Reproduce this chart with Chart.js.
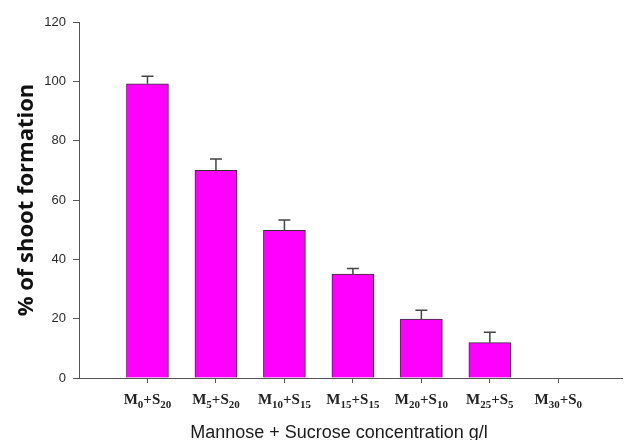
<!DOCTYPE html>
<html>
<head>
<meta charset="utf-8">
<script src="https://cdn.jsdelivr.net/npm/chart.js@4"></script>
<style>
html,body{margin:0;padding:0;background:#fff;}
#wrap{width:624px;height:440px;}
</style>
</head>
<body>
<div id="wrap"><canvas id="c" width="624" height="440"></canvas></div>
<script>
// ---- data ----
const mannose = [0, 5, 10, 15, 20, 25, 30];
const sucrose = [20, 20, 15, 15, 10, 5, 0];
const shootPercent = [99.2, 70.0, 49.8, 35.0, 19.9, 11.9, 0];
const errorSE = [2.5, 3.8, 3.5, 1.9, 2.9, 3.5, 0];
const yTicks = [0, 20, 40, 60, 80, 100, 120];
const xTitle = 'Mannose + Sucrose concentration g/l';
const yTitle = '% of shoot formation';

const points = shootPercent.map((v, i) => ({x: i + 1, y: v}));

const errorBars = {
  id: 'errorBars',
  afterDatasetsDraw(chart) {
    const ctx = chart.ctx;
    const ys = chart.scales.y;
    const meta = chart.getDatasetMeta(0);
    ctx.save();
    ctx.strokeStyle = '#444';
    ctx.lineWidth = 1.5;
    meta.data.forEach((el, i) => {
      if (!errorSE[i]) return;
      const top = ys.getPixelForValue(shootPercent[i] + errorSE[i]);
      ctx.beginPath();
      ctx.moveTo(el.x, el.y);
      ctx.lineTo(el.x, top);
      ctx.moveTo(el.x - 6, top);
      ctx.lineTo(el.x + 6, top);
      ctx.stroke();
    });
    ctx.restore();
  }
};

const subLabels = {
  id: 'subLabels',
  afterDraw(chart) {
    const ctx = chart.ctx;
    const xs = chart.scales.x;
    const big = 'bold 15px "Liberation Serif", "Times New Roman", serif';
    const small = 'bold 11px "Liberation Serif", "Times New Roman", serif';
    const baseY = 404;
    ctx.save();
    ctx.fillStyle = '#222';
    ctx.textBaseline = 'alphabetic';
    ctx.textAlign = 'left';
    mannose.forEach((m, i) => {
      const parts = [['M', big, 0], [String(m), small, 4], ['+S', big, 0], [String(sucrose[i]), small, 4]];
      let w = 0;
      parts.forEach(p => { ctx.font = p[1]; w += ctx.measureText(p[0]).width; });
      let x = xs.getPixelForValue(i + 1) - w / 2;
      parts.forEach(p => {
        ctx.font = p[1];
        ctx.fillText(p[0], x, baseY + p[2]);
        x += ctx.measureText(p[0]).width;
      });
    });
    // x axis title
    ctx.font = '18px "Liberation Sans", Arial, sans-serif';
    ctx.fillStyle = '#1a1a1a';
    ctx.textAlign = 'center';
    ctx.fillText(xTitle, 339, 438);
    ctx.restore();
  }
};

new Chart(document.getElementById('c'), {
  type: 'bar',
  data: {
    datasets: [{
      data: points,
      backgroundColor: '#FF00FF',
      borderColor: '#333333',
      borderWidth: 1,
      barThickness: 42
    }]
  },
  options: {
    responsive: false,
    animation: false,
    layout: {padding: {top: 22, right: 2, left: 0, bottom: 0}},
    plugins: {legend: {display: false}, tooltip: {enabled: false}},
    scales: {
      x: {
        type: 'linear',
        offset: false,
        min: 0,
        max: 7.93,
        afterBuildTicks(scale) {
          scale.ticks = mannose.map((m, i) => ({value: i + 1}));
        },
        afterFit(scale) { scale.height = 62; },
        ticks: {display: false},
        grid: {display: true, drawOnChartArea: false, drawTicks: true, tickLength: 5, color: '#555', offset: false},
        border: {display: true, color: '#555', width: 1},
        title: {display: false, text: xTitle}
      },
      y: {
        min: 0,
        max: 120,
        afterBuildTicks(scale) {
          scale.ticks = yTicks.map(v => ({value: v}));
        },
        afterFit(scale) { scale.width = 79; },
        ticks: {
          color: '#2a2a2a',
          padding: 7,
          font: {family: '"Liberation Sans", Arial, sans-serif', size: 13}
        },
        grid: {display: true, drawOnChartArea: false, drawTicks: true, tickLength: 6, color: '#555'},
        border: {display: true, color: '#555', width: 1},
        title: {
          display: true,
          text: yTitle,
          color: '#111',
          font: {family: '"Open Sans", "DejaVu Sans", sans-serif', size: 22, weight: 'bold'},
          padding: {top: 14, bottom: 4}
        }
      }
    }
  },
  plugins: [errorBars, subLabels]
});
</script>
</body>
</html>
